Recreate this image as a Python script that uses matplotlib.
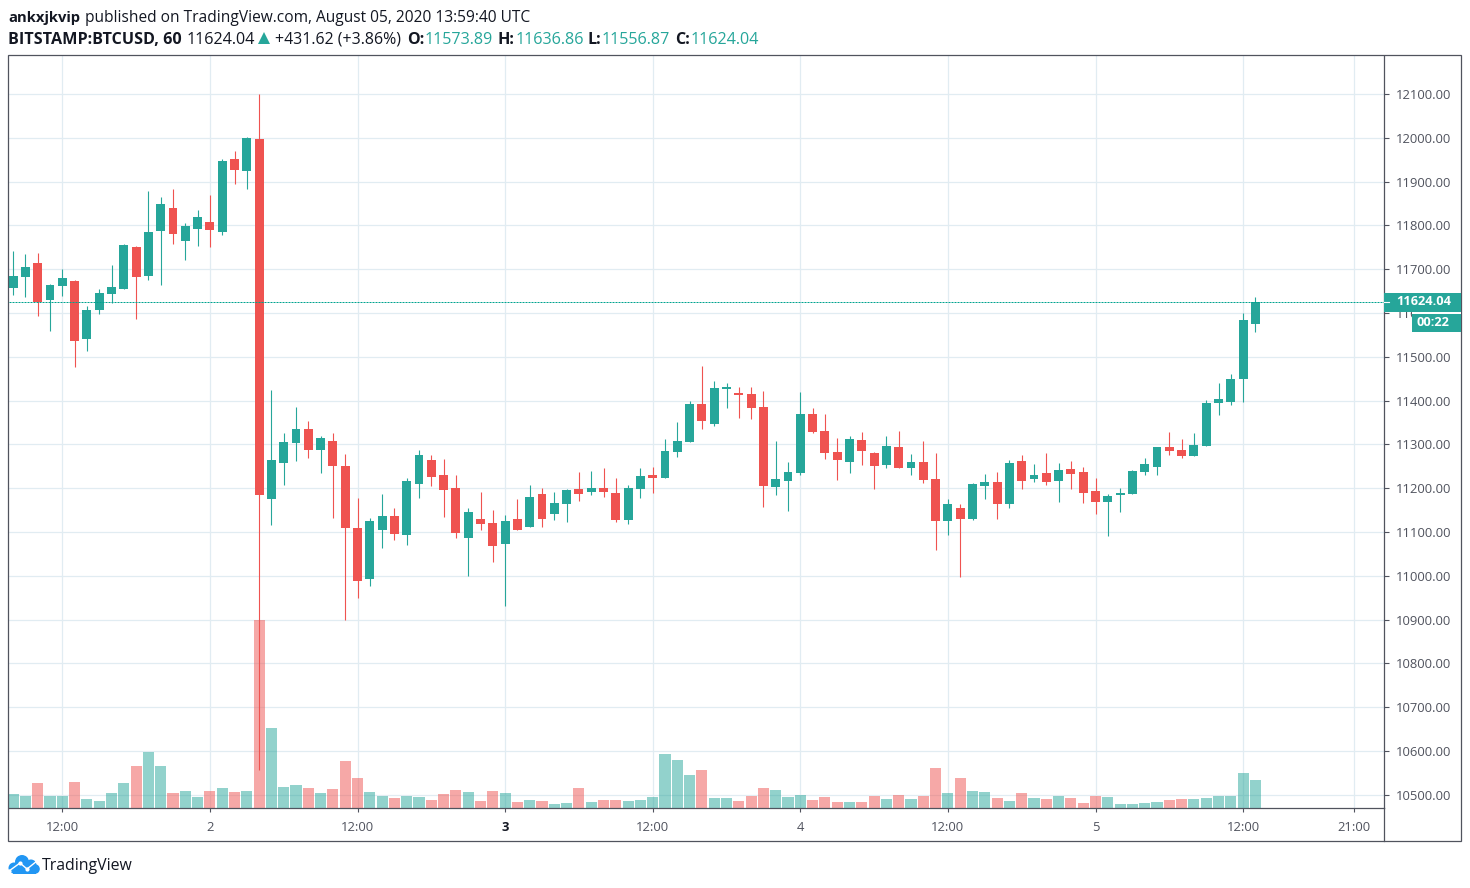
import matplotlib

matplotlib.use("Agg")
import matplotlib.pyplot as plt
from matplotlib.patches import Circle, Polygon, Rectangle

TEAL = "#26a69a"
RED = "#ef5350"
FRAME = "#50535e"
GRID = "#e1ecf2"
TEXT = "#131722"
AXIS_TEXT = "#50535e"
WIDTH, HEIGHT = 1470, 888

# hourly bars, Aug 1 08:00 to Aug 5 13:00
OPENS = [
    11658, 11683, 11713, 11630, 11662, 11674, 11541, 11607, 11644, 11655,
    11751, 11685, 11788, 11840, 11765, 11792, 11808, 11786, 11952, 11925,
    11998, 11176, 11258, 11304, 11334, 11288, 11308, 11251, 11110, 10993,
    11105, 11137, 11094, 11210, 11265, 11231, 11201, 11087, 11130, 11121,
    11073, 11130, 11112, 11187, 11140, 11165, 11199, 11192, 11201, 11190,
    11128, 11199, 11229, 11224, 11283, 11306, 11393, 11347, 11427, 11418,
    11416, 11386, 11203, 11217, 11235, 11370, 11331, 11283, 11260, 11311,
    11281, 11254, 11295, 11247, 11260, 11222, 11124, 11155, 11130, 11206,
    11215, 11165, 11263, 11222, 11235, 11217, 11244, 11238, 11194, 11169,
    11185, 11187, 11238, 11249, 11295, 11288, 11274, 11297, 11395, 11397,
    11450, 11573.89,
]
HIGHS = [
    11742, 11735, 11738, 11667, 11701, 11676, 11617, 11655, 11710, 11758,
    11754, 11879, 11865, 11884, 11806, 11836, 11870, 11952, 11970, 12002,
    12100, 11425, 11327, 11386, 11354, 11320, 11327, 11279, 11178, 11133,
    11187, 11155, 11224, 11288, 11276, 11267, 11231, 11155, 11192, 11151,
    11139, 11176, 11208, 11201, 11192, 11199, 11238, 11240, 11247, 11224,
    11208, 11247, 11249, 11313, 11350, 11398, 11480, 11445, 11441, 11432,
    11432, 11423, 11308, 11260, 11420, 11382, 11370, 11315, 11320, 11329,
    11283, 11320, 11331, 11279, 11308, 11281, 11176, 11165, 11213, 11233,
    11238, 11265, 11276, 11256, 11281, 11258, 11263, 11249, 11224, 11187,
    11201, 11242, 11270, 11295, 11329, 11313, 11327, 11402, 11441, 11461,
    11601, 11636.86,
]
LOWS = [
    11640, 11637, 11594, 11560, 11639, 11477, 11514, 11598, 11623, 11655,
    11587, 11676, 11665, 11758, 11722, 11754, 11751, 11779, 11895, 11884,
    10557, 11117, 11208, 11263, 11270, 11235, 11133, 10898, 10950, 10977,
    11064, 11082, 11071, 11178, 11206, 11135, 11087, 11000, 11105, 11032,
    10932, 11105, 11112, 11112, 11128, 11123, 11171, 11185, 11181, 11123,
    11119, 11178, 11190, 11224, 11272, 11306, 11334, 11343, 11384, 11361,
    11359, 11158, 11185, 11149, 11229, 11327, 11267, 11219, 11235, 11254,
    11199, 11247, 11247, 11231, 11213, 11060, 11094, 10998, 11128, 11176,
    11130, 11155, 11199, 11215, 11208, 11169, 11199, 11167, 11142, 11092,
    11146, 11187, 11229, 11229, 11276, 11270, 11274, 11297, 11368, 11391,
    11397, 11556.87,
]
CLOSES = [
    11685, 11706, 11626, 11665, 11680, 11537, 11607, 11646, 11660, 11756,
    11683, 11786, 11849, 11781, 11799, 11820, 11790, 11948, 11927, 12000,
    11185, 11265, 11306, 11334, 11288, 11315, 11251, 11108, 10989, 11126,
    11137, 11096, 11217, 11276, 11226, 11197, 11098, 11146, 11119, 11069,
    11126, 11105, 11181, 11130, 11167, 11196, 11187, 11201, 11192, 11128,
    11201, 11228, 11224, 11286, 11308, 11393, 11354, 11429, 11432, 11413,
    11382, 11206, 11222, 11238, 11370, 11329, 11281, 11265, 11313, 11286,
    11251, 11297, 11247, 11260, 11219, 11124, 11165, 11130, 11210, 11215,
    11165, 11258, 11217, 11231, 11215, 11242, 11233, 11190, 11169, 11183,
    11190, 11240, 11256, 11295, 11286, 11274, 11299, 11395, 11404, 11450,
    11585, 11624.04,
]
VOLUMES = [
    43, 38, 76, 38, 38, 79, 28, 22, 46, 76,
    127, 169, 127, 46, 52, 34, 52, 61, 49, 52,
    565, 241, 64, 70, 61, 46, 58, 142, 91, 49,
    37, 31, 37, 34, 25, 43, 55, 49, 22, 52,
    46, 19, 25, 22, 13, 16, 61, 19, 25, 25,
    22, 25, 34, 163, 145, 100, 115, 31, 31, 22,
    37, 61, 55, 34, 40, 25, 34, 19, 19, 19,
    37, 28, 40, 28, 37, 121, 46, 91, 52, 49,
    31, 22, 46, 31, 28, 37, 31, 16, 37, 34,
    13, 13, 16, 19, 25, 28, 28, 31, 37, 37,
    106, 85,
]
# this one bar has a teal volume under a red doji
TEAL_VOLUME_ON_RED_BAR = [52]

PRICE_TICKS = list(range(10500, 12101, 100))
TIME_TICK_BARS = [4, 16, 28, 40, 52, 64, 76, 88, 100, 109]
TIME_TICK_LABELS = ["12:00", "2", "12:00", "3", "12:00", "4", "12:00", "5", "12:00", "21:00"]
LAST_PRICE = 11624.04
COUNTDOWN = "00:22"

plt.rcParams["font.family"] = ["Open Sans", "DejaVu Sans"]

fig = plt.figure(figsize=(WIDTH / 100, HEIGHT / 100), dpi=100, facecolor="white")

# price pane, placed in pixels
left, right, top, bottom = 9, 1384, 56, 808.3
ax = fig.add_axes([left / WIDTH, 1 - bottom / HEIGHT, (right - left) / WIDTH, (bottom - top) / HEIGHT])
bar_step = 12.3
first_bar_px = 13.1
volume_top = 2257.0

bars = list(range(len(CLOSES)))
is_up = [c >= o for o, c in zip(OPENS, CLOSES)]
candle_colors = [TEAL if up else RED for up in is_up]
volume_colors = [
    TEAL if up or i in TEAL_VOLUME_ON_RED_BAR else RED for i, up in enumerate(is_up)
]

ax.bar(
    bars,
    [v / volume_top for v in VOLUMES],
    width=0.9,
    color=volume_colors,
    alpha=0.5,
    linewidth=0,
    transform=ax.get_xaxis_transform(),
    zorder=1,
)
ax.vlines(bars, LOWS, HIGHS, colors=candle_colors, linewidth=0.8, zorder=2)
ax.bar(
    bars,
    [abs(c - o) for o, c in zip(OPENS, CLOSES)],
    bottom=[min(o, c) for o, c in zip(OPENS, CLOSES)],
    width=0.73,
    color=candle_colors,
    linewidth=0,
    zorder=3,
)
ax.axhline(LAST_PRICE, color="#00a38f", linewidth=0.72, linestyle=(0, (2, 1)), zorder=4)

ax.set_xlim((left - first_bar_px) / bar_step, (right - first_bar_px) / bar_step)
ax.set_ylim(10469.2, 12186.7)
ax.set_axisbelow(True)
ax.grid(True, color=GRID, linewidth=0.9)

ax.yaxis.tick_right()
ax.set_yticks(PRICE_TICKS)
ax.set_yticklabels([f"{p:.2f}" for p in PRICE_TICKS])
ax.set_xticks(TIME_TICK_BARS)
ax.set_xticklabels(TIME_TICK_LABELS)
ax.tick_params(axis="y", length=3.6, width=0.8, color=FRAME, labelcolor=AXIS_TEXT, labelsize=9.4, pad=5)
ax.tick_params(axis="x", length=3.2, width=0.8, color=FRAME, labelcolor=AXIS_TEXT, labelsize=9.4, pad=6)
ax.get_xticklabels()[3].set_fontweight("bold")
ax.get_xticklabels()[3].set_color(TEXT)
for side in ("top", "left"):
    ax.spines[side].set_visible(False)
for side in ("right", "bottom"):
    ax.spines[side].set_color(FRAME)
    ax.spines[side].set_linewidth(0.9)

# everything outside the pane goes on a full figure overlay in pixel coords
over = fig.add_axes([0, 0, 1, 1], zorder=5)
over.set_xlim(0, WIDTH)
over.set_ylim(HEIGHT, 0)
over.axis("off")

over.add_patch(Rectangle((8.5, 55.5), 1453, 785.5, fill=False, edgecolor=FRAME, linewidth=0.9))
over.plot([1384.5, 1384.5], [808, 841], color=FRAME, linewidth=0.9)

# last price and countdown tags
over.add_patch(Rectangle((1384, 293), 77.5, 19, facecolor=TEAL, edgecolor="none"))
over.plot([1384, 1389], [302.5, 302.5], color="white", linewidth=0.8)
over.text(1396, 301.5, f"{LAST_PRICE:.2f}", color="white", fontsize=9.2, fontweight="bold", va="center")
over.add_patch(Rectangle((1412, 312), 49.5, 1.5, facecolor="white", edgecolor="none"))
over.add_patch(Rectangle((1412, 313.5), 49.5, 18.5, facecolor=TEAL, edgecolor="none"))
over.text(1417, 322, COUNTDOWN, color="white", fontsize=9.2, fontweight="bold", va="center")


def header(x, y, s, color=TEXT, weight="normal", size=11.2):
    over.text(x, y, s, color=color, fontweight=weight, fontsize=size, va="center", ha="left")


header(8, 18, "ankxjkvip", weight="bold", size=10.6)
header(85, 18, "published on TradingView.com, August 05, 2020 13:59:40 UTC")
header(8, 40, "BITSTAMP:BTCUSD, 60", weight="bold", size=11.6)
header(187, 40, "11624.04", size=11.6)
over.add_patch(Polygon([(258, 44), (270, 44), (264, 32)], facecolor=TEAL, edgecolor="none"))
header(275, 40, "+431.62 (+3.86%)", size=11.4)
header(407, 40, "O:", weight="bold", size=11.6)
header(425, 40, "11573.89", color=TEAL, size=11.6)
header(498, 40, "H:", weight="bold", size=11.6)
header(516, 40, "11636.86", color=TEAL, size=11.6)
header(588, 40, "L:", weight="bold", size=11.6)
header(602, 40, "11556.87", color=TEAL, size=11.6)
header(675, 40, "C:", weight="bold", size=11.6)
header(691, 40, "11624.04", color=TEAL, size=11.6)

# logo: blue cloud with a white zigzag
logo_blue = "#2196f3"
for cx, cy, r in [(14, 868, 5.5), (22, 862, 7), (31, 865, 5.5), (35, 869, 4.8)]:
    over.add_patch(Circle((cx, cy), r, facecolor=logo_blue, edgecolor="none"))
over.add_patch(Rectangle((13, 868), 23, 5.5, facecolor=logo_blue, edgecolor="none"))
over.plot([9, 20, 27, 37], [871, 863, 869, 861], color="white", linewidth=1.0, marker="o", markersize=2)
over.text(42, 865.5, "TradingView", color=TEXT, fontsize=11.4, va="center", ha="left")

fig.savefig("out.png", dpi=100)
